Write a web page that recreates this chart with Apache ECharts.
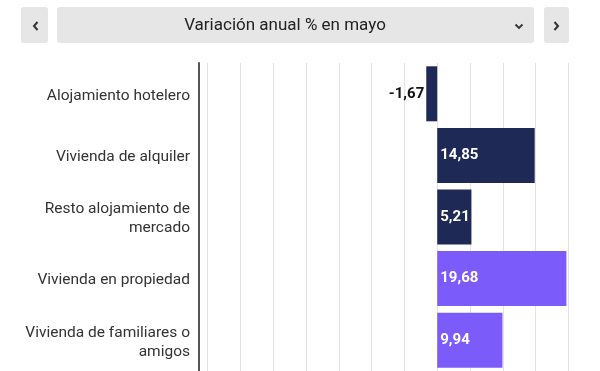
<!DOCTYPE html>
<html>
<head>
<meta charset="utf-8">
<script src="https://cdn.jsdelivr.net/npm/echarts@6/dist/echarts.min.js"></script>
<style>
html,body{margin:0;padding:0;background:#fff;}
#chart{width:600px;height:371px;}
</style>
</head>
<body>
<div id="chart"></div>
<script>
const title = 'Variación anual % en mayo';
const categories = [
  'Alojamiento hotelero',
  'Vivienda de alquiler',
  'Resto alojamiento de\nmercado',
  'Vivienda en propiedad',
  'Vivienda de familiares o\namigos'
];
const values = [-1.67, 14.85, 5.21, 19.68, 9.94];
const xMin = -35, xMax = 20, xStep = 5;

const navy = '#1e2a55';
const purple = '#7b5cfb';
const fmt = v => String(v.toFixed(2)).replace('.', ',');

const chart = echarts.init(document.getElementById('chart'), null, {renderer: 'canvas'});
const btnColor = '#e6e6e6';
const lineH = 19;
chart.setOption({
  animation: false,
  textStyle: {fontFamily: 'Roboto'},
  grid: {left: 207.5, right: 31.5, top: 63, height: 309, containLabel: false},
  xAxis: {
    type: 'value', min: xMin, max: xMax, interval: xStep,
    axisLabel: {show: false}, axisTick: {show: false}, axisLine: {show: false},
    splitLine: {show: true, lineStyle: {color: '#e3e3e3', width: 1}}
  },
  yAxis: {
    type: 'category', data: categories, inverse: true, offset: 9,
    axisTick: {show: false},
    axisLine: {show: true, onZero: false, lineStyle: {color: '#555', width: 2}},
    axisLabel: {show: false}
  },
  series: [{
    type: 'bar',
    barWidth: 55,
    data: values.map((v, i) => ({
      value: v,
      itemStyle: {color: i < 3 ? navy : purple},
      label: v < 0
        ? {show: true, position: 'left', color: '#111', distance: 2}
        : {show: true, position: 'insideLeft', color: '#fff', distance: 3}
    })),
    label: {fontSize: 15, fontWeight: 'bold', fontFamily: 'Roboto', formatter: p => fmt(p.value)}
  }, {
    type: 'custom',
    clip: false,
    silent: true,
    data: categories.map(c => [xMin, c]),
    encode: {x: 0, y: 1},
    renderItem: (params, api) => {
      const p = api.coord([xMin, api.value(1)]);
      const lines = categories[params.dataIndex].split('\n');
      const y0 = p[1] + 2 - (lines.length - 1) * lineH / 2;
      return {
        type: 'group',
        children: lines.map((s, k) => ({
          type: 'text',
          x: p[0] - 17.5,
          y: y0 + k * lineH,
          style: {
            text: s, align: 'right', verticalAlign: 'middle',
            font: '15.5px Roboto', fill: '#333'
          }
        }))
      };
    }
  }],
  graphic: [
    {type: 'rect', shape: {x: 21, y: 7, width: 27, height: 36, r: 3}, style: {fill: btnColor}},
    {type: 'rect', shape: {x: 57, y: 7, width: 477, height: 36, r: 3}, style: {fill: btnColor}},
    {type: 'rect', shape: {x: 544, y: 7, width: 25, height: 36, r: 3}, style: {fill: btnColor}},
    {type: 'polyline', shape: {points: [[37.5, 22], [34, 26], [37.5, 30]]}, style: {stroke: '#333', lineWidth: 2, fill: null}},
    {type: 'polyline', shape: {points: [[554.5, 22], [558, 26], [554.5, 30]]}, style: {stroke: '#333', lineWidth: 2, fill: null}},
    {type: 'polyline', shape: {points: [[515.5, 24.5], [519, 28], [522.5, 24.5]]}, style: {stroke: '#333', lineWidth: 1.8, fill: null}},
    {type: 'text', x: 285, y: 26, style: {text: title, fill: '#222', font: '17px Roboto', align: 'center', verticalAlign: 'middle'}}
  ]
});
</script>
</body>
</html>
